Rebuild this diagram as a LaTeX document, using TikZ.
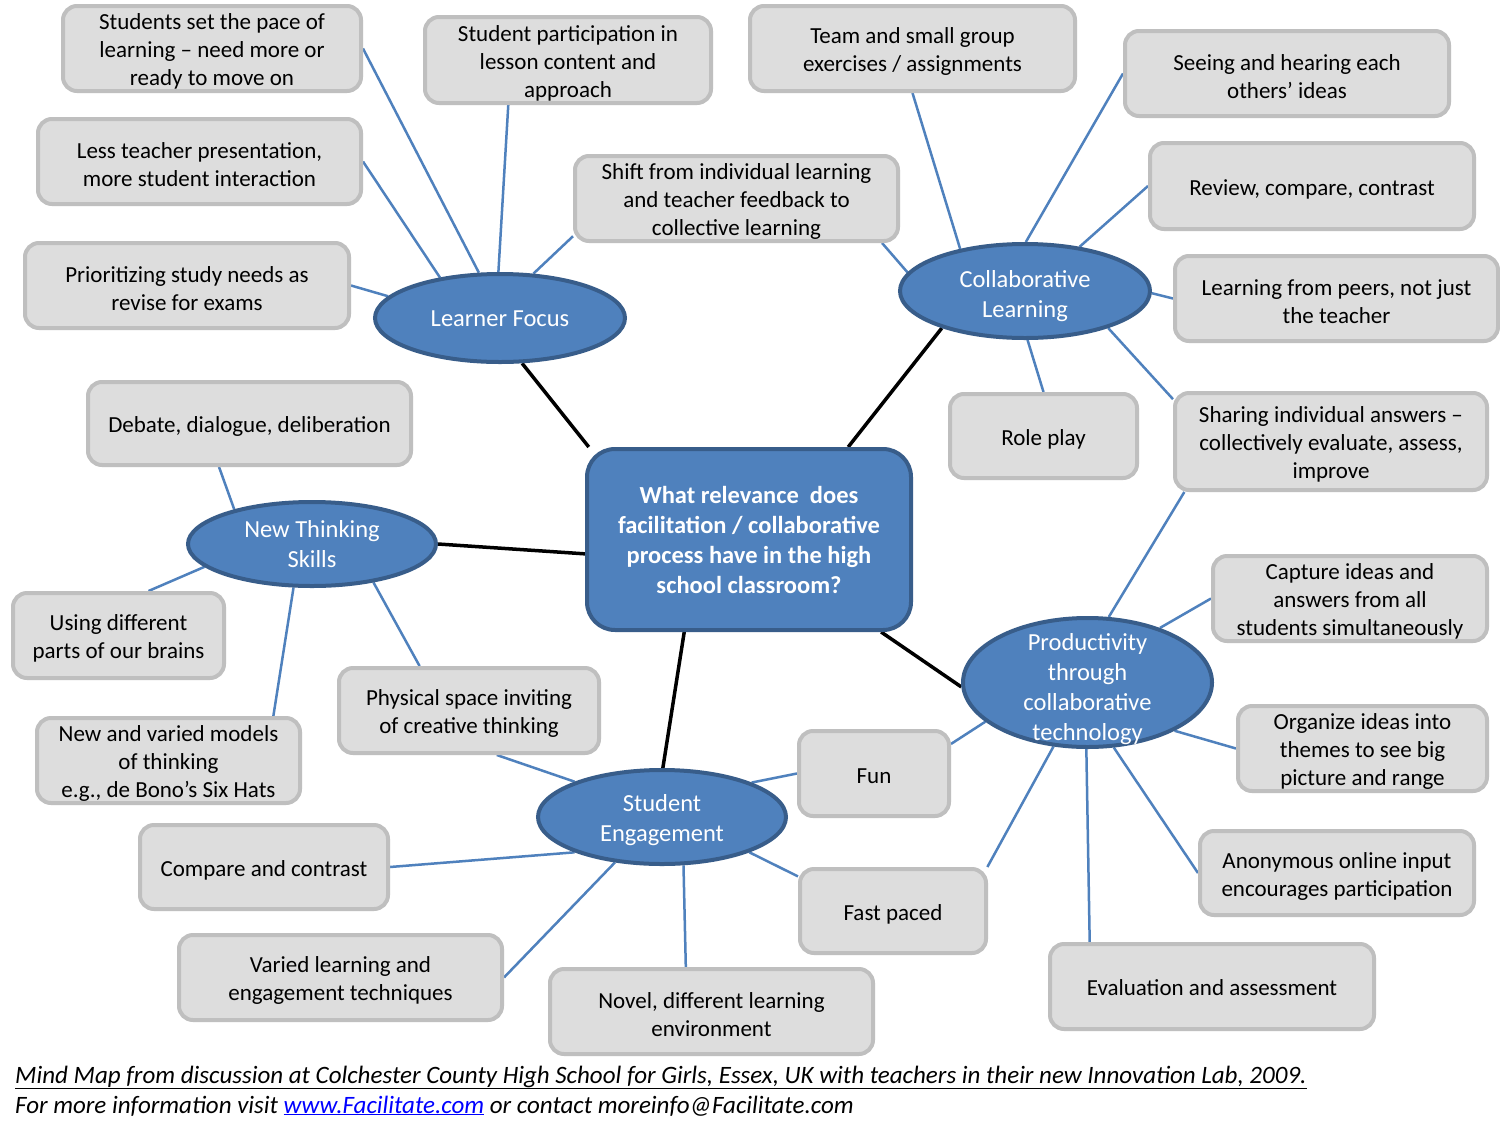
\documentclass[tikz,border=0pt]{standalone}
\usepackage{fontspec}
\setmainfont{Carlito}
\usetikzlibrary{shapes.geometric,backgrounds}
\definecolor{boxfill}{HTML}{DDDDDD}
\definecolor{boxline}{HTML}{BFBFBF}
\definecolor{topicfill}{HTML}{4F81BD}
\definecolor{topicline}{HTML}{385D8A}
\definecolor{conncol}{HTML}{4F81BD}
\definecolor{linkblue}{HTML}{0000FF}
\begin{document}
\begin{tikzpicture}[x=1pt,y=-1pt,
  leaf/.style={draw=boxline, fill=boxfill, line width=4pt, rounded corners=14pt, inner sep=0pt},
  leaftext/.style={align=center, font=\fontsize{23}{28}\selectfont, text=black, inner sep=0pt, yshift=-3pt},
  topic/.style={ellipse, draw=topicline, fill=topicfill, line width=4pt, inner sep=0pt},
  topictext/.style={align=center, text=white, font=\fontsize{24.5}{30}\selectfont, inner sep=0pt},
  hubbox/.style={draw=topicline, fill=topicfill, line width=4pt, rounded corners=28pt, inner sep=0pt, align=center, text=white, font=\bfseries\fontsize{24.5}{30}\selectfont},
  conn/.style={draw=conncol, line width=2.5pt},
  spoke/.style={draw=black, line width=3.5pt},
  foot/.style={anchor=base west, inner sep=0pt, font=\itshape\fontsize{25}{30}\selectfont}
]
\useasboundingbox (0,0) rectangle (1500,1125);

% hub
\node[hubbox, minimum width=324pt, minimum height=181pt] (hub) at (749,539.5) {What relevance\ \ does\\facilitation / collaborative\\process have in the high\\school classroom?};

% topics
\node[topic, minimum width=250pt, minimum height=88pt, label={[topictext, yshift=-1pt]center:Learner Focus}] (lf) at (500,318) {};
\node[topic, minimum width=250pt, minimum height=94pt, label={[topictext, yshift=-5.5pt]center:Collaborative\\Learning}] (cl) at (1025,291) {};
\node[topic, minimum width=249pt, minimum height=129pt, label={[topictext, yshift=-6.5pt]center:Productivity\\through\\collaborative\\technology}] (pr) at (1087.5,682.5) {};
\node[topic, minimum width=248pt, minimum height=84pt, label={[topictext]center:New Thinking\\Skills}] (nt) at (312,544) {};
\node[topic, minimum width=248pt, minimum height=94pt, label={[topictext, yshift=-3pt]center:Student\\Engagement}] (se) at (662,817) {};

% Learner focus leaves
\node[leaf, minimum width=298pt, minimum height=85pt, label={[leaftext]center:Students set the pace of\\learning – need more or\\ready to move on}] (b1) at (212,48.5) {};
\node[leaf, minimum width=323pt, minimum height=85pt, label={[leaftext]center:Less teacher presentation,\\more student interaction}] (b2) at (199.5,161.5) {};
\node[leaf, minimum width=324pt, minimum height=85pt, label={[leaftext]center:Prioritizing study needs as\\revise for exams}] (b3) at (187,285.5) {};
\node[leaf, minimum width=286pt, minimum height=86pt, label={[leaftext]center:Student participation in\\lesson content and\\approach}] (b4) at (568,60) {};
\node[leaf, minimum width=323pt, minimum height=85pt, label={[leaftext]center:Shift from individual learning\\and teacher feedback to\\collective learning}] (b5) at (736.5,198.5) {};

% Collaborative leaves
\node[leaf, minimum width=325pt, minimum height=85pt, label={[leaftext]center:Team and small group\\exercises / assignments}] (team) at (912.5,48.5) {};
\node[leaf, minimum width=324pt, minimum height=85pt, label={[leaftext]center:Seeing and hearing each\\others’ ideas}] (seeing) at (1287,73.5) {};
\node[leaf, minimum width=324pt, minimum height=86pt, label={[leaftext]center:Review, compare, contrast}] (review) at (1312,186) {};
\node[leaf, minimum width=323pt, minimum height=85pt, label={[leaftext]center:Learning from peers, not just\\the teacher}] (peers) at (1336.5,298.5) {};
\node[leaf, minimum width=187pt, minimum height=84pt, label={[leaftext]center:Role play}] (role) at (1043.5,436) {};
\node[leaf, minimum width=312pt, minimum height=97pt, label={[leaftext]center:Sharing individual answers –\\collectively evaluate, assess,\\improve}] (sharing) at (1331,441.5) {};

% Productivity leaves
\node[leaf, minimum width=274pt, minimum height=85pt, label={[leaftext]center:Capture ideas and\\answers from all\\students simultaneously}] (capture) at (1350,598.5) {};
\node[leaf, minimum width=249pt, minimum height=85pt, label={[leaftext]center:Organize ideas into\\themes to see big\\picture and range}] (organize) at (1362.5,748.5) {};
\node[leaf, minimum width=274pt, minimum height=84pt, label={[leaftext]center:Anonymous online input\\encourages participation}] (anon) at (1337,873) {};
\node[leaf, minimum width=324pt, minimum height=85pt, label={[leaftext, yshift=1.5pt]center:Evaluation and assessment}] (evals) at (1212,986.5) {};
\node[leaf, minimum width=150pt, minimum height=85pt, label={[leaftext]center:Fun}] (fun) at (874,773.5) {};
\node[leaf, minimum width=186pt, minimum height=84pt, label={[leaftext]center:Fast paced}] (fast) at (893,911) {};

% New thinking leaves
\node[leaf, minimum width=323pt, minimum height=83pt, label={[leaftext]center:Debate, dialogue, deliberation}] (debate) at (249.5,423.5) {};
\node[leaf, minimum width=211pt, minimum height=85pt, label={[leaftext]center:Using different\\parts of our brains}] (using) at (118.5,635.5) {};
\node[leaf, minimum width=263pt, minimum height=85pt, label={[leaftext]center:New and varied models\\of thinking\\e.g., de Bono’s Six Hats}] (models) at (168.5,760.5) {};
\node[leaf, minimum width=260pt, minimum height=85pt, label={[leaftext]center:Physical space inviting\\of creative thinking}] (physical) at (469,710.5) {};

% Student engagement leaves
\node[leaf, minimum width=248pt, minimum height=84pt, label={[leaftext]center:Compare and contrast}] (compare) at (264,867) {};
\node[leaf, minimum width=323pt, minimum height=85pt, label={[leaftext]center:Varied learning and\\engagement techniques}] (varied) at (340.5,977.5) {};
\node[leaf, minimum width=323pt, minimum height=85pt, label={[leaftext]center:Novel, different learning\\environment}] (novel) at (711.5,1011.5) {};

% footer
\node[foot] (f1) at (15,1083) {\underline{Mind Map from discussion at Colchester County High School for Girls, Essex, UK with teachers in their new Innovation Lab, 2009.}};
\node[foot] (f2) at (15,1113) {For more information visit {\color{linkblue}\underline{www.Facilitate.com}} or contact moreinfo@Facilitate.com};

\begin{scope}[on background layer]
\fill[white] (0,0) rectangle (1500,1125);
% spokes
\draw[spoke] (lf.-64) -- (hub.150);
\draw[spoke] (cl.-156) -- (hub.43);
\draw[spoke] (nt.0) -- (hub.-175);
\draw[spoke] (se.89) -- (hub.-125);
\draw[spoke] (pr.182) -- (hub.-35.5);
% learner focus
\draw[conn] (b1.east) -- (lf.115);
\draw[conn] (b2.east) -- (lf.146);
\draw[conn] (b3.east) -- (lf.169);
\draw[conn] (b4.-143) -- (lf.92);
\draw[conn] (b5.-167) -- (lf.53.5);
% collaborative
\draw[conn] (b5.-17.7) -- (cl.171);
\draw[conn] (team.south) -- (cl.147);
\draw[conn] (seeing.west) -- (cl.89);
\draw[conn] (review.west) -- (cl.39);
\draw[conn] (peers.west) -- (cl.-1.4);
\draw[conn] (role.north) -- (cl.-87.6);
\draw[conn] (sharing.165.3) -- (cl.-24);
% productivity
\draw[conn] (sharing.-161.7) -- (pr.72.3);
\draw[conn] (capture.west) -- (pr.37);
\draw[conn] (organize.west) -- (pr.-29.6);
\draw[conn] (anon.west) -- (pr.-68.6);
\draw[conn] (evals.160.9) -- (pr.-91.6);
\draw[conn] (fast.25.5) -- (pr.-118.4);
\draw[conn] (fun.21.9) -- (pr.-159.2);
% new thinking
\draw[conn] (debate.-125.8) -- (nt.156.6);
\draw[conn] (using.56.6) -- (nt.-168);
\draw[conn] (models.23.8) -- (nt.-113.7);
\draw[conn] (physical.138) -- (nt.-32.7);
% student engagement
\draw[conn] (physical.-58) -- (se.158.7);
\draw[conn] (compare.east) -- (se.-158.2);
\draw[conn] (varied.east) -- (se.-136.7);
\draw[conn] (novel.120) -- (se.-66.7);
\draw[conn] (fun.west) -- (se.21.7);
\draw[conn] (fast.160.5) -- (se.-22.9);
\end{scope}
\end{tikzpicture}
\end{document}
